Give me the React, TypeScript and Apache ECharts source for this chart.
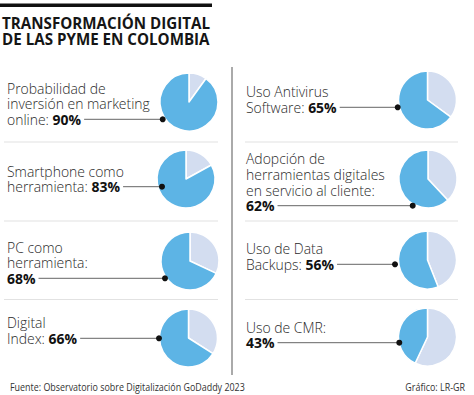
import React, { useEffect, useRef } from "react";
import * as echarts from "echarts";

// ---- data ----
const titleLines = ["TRANSFORMACIÓN DIGITAL", "DE LAS PYME EN COLOMBIA"];
const categories = [
  "Probabilidad de\ninversión en marketing\nonline: ",
  "Smartphone como\nherramienta: ",
  "PC como\nherramienta:\n",
  "Digital\nIndex: ",
  "Uso Antivirus\nSoftware: ",
  "Adopción de\nherramientas digitales\nen servicio al cliente:\n",
  "Uso de Data\nBackups: ",
  "Uso de CMR:\n",
];
const values = [90, 83, 68, 66, 65, 62, 56, 43];
const sourceText = "Fuente: Observatorio sobre Digitalización GoDaddy 2023";
const creditText = "Gráfico: LR-GR";

// ---- style / layout ----
const BLUE = "#5DB4E5";
const LIGHT = "#D3DDF0";
const TEXT = "#2a2a2a";
const FONT = "'Open Sans', sans-serif";
const R = 29;
const pieCenters = [
  [189, 102], [186, 179], [190, 261], [188.5, 338],
  [427.5, 100], [428, 179], [427.5, 260], [427.5, 337],
];
const dots = [
  [162.7, 119.3], [162, 186.7], [165, 278.3], [159, 338.3],
  [397.7, 107.3], [412.7, 205.7], [395, 264.3], [399.3, 342.7],
];
const textX = [7, 7, 7, 7, 246, 246, 246, 246];
const LINE_H = 15.7;

function measure(text: string, font: string): number {
  const ctx = document.createElement("canvas").getContext("2d")!;
  ctx.font = font;
  return ctx.measureText(text).width;
}

export default function App() {
  const ref = useRef<HTMLDivElement>(null);
  useEffect(() => {
    if (!ref.current) return;
    const chart = echarts.init(ref.current, null, { renderer: "svg" });

    const bodyFont = "300 15px 'Open Sans'";
    const boldFont = "bold 15px 'Open Sans'";
    const sBody = 143 / measure("inversión en marketing", bodyFont);
    const sTitle = 208 / measure(titleLines[0], "bold 16px 'Open Sans'");
    const sFoot = 235 / measure(sourceText, "11.5px 'Open Sans'");

    const graphic: any[] = [];
    // top rule
    graphic.push({ type: "rect", shape: { x: 0, y: 3.5, width: 212, height: 3.5 }, style: { fill: "#111" } });
    titleLines.forEach((t, i) => {
      graphic.push({
        type: "text", x: 2, y: 23 + i * 16.3, scaleX: sTitle,
        style: { text: t, fill: "#151515", font: `bold 16px ${FONT}`, verticalAlign: "middle", align: "left" },
      });
    });
    // vertical divider
    graphic.push({ type: "line", shape: { x1: 232, y1: 67, x2: 232, y2: 375 }, style: { stroke: "#aaa", lineWidth: 2 } });
    // separators
    [142, 221, 299.5].forEach((y) => {
      graphic.push({ type: "line", shape: { x1: 4, y1: y, x2: 218, y2: y }, style: { stroke: "#e2e2e2", lineWidth: 1.2 } });
      graphic.push({ type: "line", shape: { x1: 245, y1: y, x2: 458, y2: y }, style: { stroke: "#e2e2e2", lineWidth: 1.2 } });
    });

    categories.forEach((c, i) => {
      const lines = c.split("\n");
      const n = lines.length;
      const lastY = dots[i][1];
      lines.forEach((ln, j) => {
        const y = lastY - (n - 1 - j) * LINE_H;
        const isLast = j === n - 1;
        graphic.push({
          type: "text", x: textX[i], y, scaleX: sBody,
          style: isLast
            ? {
                text: `{n|${ln}}{b|${values[i]}%}`,
                verticalAlign: "middle", align: "left",
                rich: {
                  n: { font: `300 15px ${FONT}`, fill: TEXT },
                  b: { font: `bold 15px ${FONT}`, fill: "#111" },
                },
              }
            : { text: ln, font: `300 15px ${FONT}`, fill: TEXT, verticalAlign: "middle", align: "left" },
        });
        if (isLast) {
          const w = (measure(ln, bodyFont) + measure(`${values[i]}%`, boldFont)) * sBody;
          graphic.push({
            type: "line", z: 50,
            shape: { x1: textX[i] + w + 3, y1: dots[i][1], x2: dots[i][0], y2: dots[i][1] },
            style: { stroke: "#666", lineWidth: 1 },
          });
        }
      });
      graphic.push({ type: "circle", z: 60, shape: { cx: dots[i][0], cy: dots[i][1], r: 3 }, style: { fill: "#111" } });
    });

    // footer
    graphic.push({
      type: "text", x: 10, y: 386.5, scaleX: sFoot,
      style: { text: sourceText, font: `11.5px ${FONT}`, fill: "#333", verticalAlign: "middle", align: "left" },
    });
    graphic.push({
      type: "text", x: 465, y: 386.5, scaleX: sFoot,
      style: { text: creditText, font: `11.5px ${FONT}`, fill: "#333", verticalAlign: "middle", align: "right" },
    });

    chart.setOption({
      animation: false,
      backgroundColor: "#fff",
      graphic: { elements: graphic },
      series: values.map((v, i) => ({
        type: "pie",
        name: categories[i].replace(/\n/g, " ").trim(),
        center: pieCenters[i],
        radius: R,
        startAngle: 90,
        clockwise: true,
        silent: true,
        z: 1,
        label: { show: false },
        labelLine: { show: false },
        emphasis: { disabled: true },
        itemStyle: { borderColor: "#fff", borderWidth: 1.5 },
        data: [
          { value: 100 - v, name: "Resto", itemStyle: { color: LIGHT } },
          { value: v, name: `${v}%`, itemStyle: { color: BLUE } },
        ],
      })),
    });
    return () => chart.dispose();
  }, []);
  return (
    <div
      ref={ref}
      style={{ position: "absolute", left: 0, top: 0, width: 474, height: 395, background: "#fff" }}
    />
  );
}
